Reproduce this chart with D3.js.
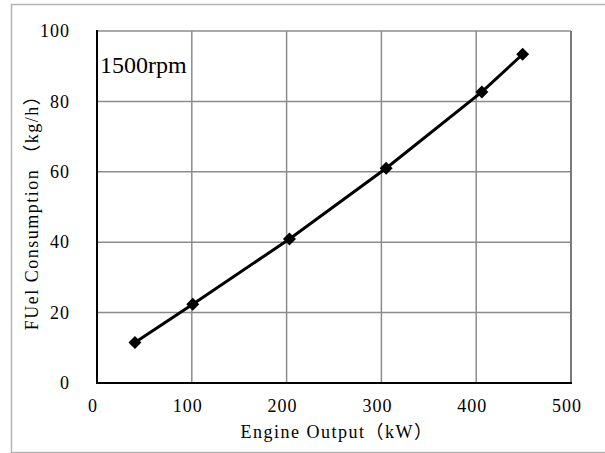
<!DOCTYPE html>
<html>
<head>
<meta charset="utf-8">
<script src="https://cdn.jsdelivr.net/npm/d3@7"></script>
<style>
  body { margin: 0; background: #fff; }
  svg { display: block; }
  .tick-label { font-family: "Liberation Serif", "Noto Sans CJK SC", serif; font-size: 18px; letter-spacing: 1px; fill: #000; }
  .axis-title { font-family: "Liberation Serif", "Noto Sans CJK SC", serif; font-size: 18px; letter-spacing: 1.5px; fill: #000; }
</style>
</head>
<body>
<div id="chart"></div>
<script>
// values
const outputKW = [40, 101, 203, 305, 406, 449];
const fuelKgH = [11.5, 22.4, 40.9, 61, 82.7, 93.4];
const xTicks = [0, 100, 200, 300, 400, 500];
const yTicks = [0, 20, 40, 60, 80, 100];

const width = 605, height = 453;
const margin = { top: 31, right: 34, bottom: 70, left: 97 };
const plotW = width - margin.left - margin.right;
const plotH = height - margin.top - margin.bottom;

const svg = d3.select("#chart")
  .append("svg")
  .attr("width", width)
  .attr("height", height);

// outer frame (right side runs off the picture)
svg.append("path")
  .attr("d", `M${width + 5},4.5 H11.5 V452.5 H${width + 5}`)
  .attr("fill", "none")
  .attr("stroke", "#b4b4b4")
  .attr("stroke-width", 1.5);

const x = d3.scaleLinear().domain([0, 500]).range([0, plotW]);
const y = d3.scaleLinear().domain([0, 100]).range([plotH, 0]);

const g = svg.append("g")
  .attr("transform", `translate(${margin.left},${margin.top})`);

// grid
g.selectAll(".vgrid")
  .data(xTicks.slice(1))
  .join("line")
  .attr("x1", d => x(d)).attr("x2", d => x(d))
  .attr("y1", 0).attr("y2", plotH)
  .attr("stroke", "#8c8c8c")
  .attr("stroke-width", 1.5);

g.selectAll(".hgrid")
  .data(yTicks.slice(1))
  .join("line")
  .attr("x1", 0).attr("x2", plotW)
  .attr("y1", d => y(d)).attr("y2", d => y(d))
  .attr("stroke", "#8c8c8c")
  .attr("stroke-width", 1.5);

// right edge a bit heavier, like the original
g.append("line")
  .attr("x1", plotW).attr("x2", plotW)
  .attr("y1", 0).attr("y2", plotH)
  .attr("stroke", "#7a7a7a")
  .attr("stroke-width", 2);

// axes lines
g.append("line")
  .attr("x1", 0).attr("x2", 0)
  .attr("y1", -1).attr("y2", plotH + 1)
  .attr("stroke", "#000")
  .attr("stroke-width", 2);
g.append("line")
  .attr("x1", -1).attr("x2", plotW + 1)
  .attr("y1", plotH).attr("y2", plotH)
  .attr("stroke", "#000")
  .attr("stroke-width", 2);

// tick labels
g.selectAll(".ylab")
  .data(yTicks)
  .join("text")
  .attr("class", "tick-label")
  .attr("x", -27)
  .attr("y", d => y(d))
  .attr("dy", "0.34em")
  .attr("text-anchor", "end")
  .text(d => d);

g.selectAll(".xlab")
  .data(xTicks)
  .join("text")
  .attr("class", "tick-label")
  .attr("x", d => x(d) - 4)
  .attr("y", plotH + 29)
  .attr("text-anchor", "middle")
  .text(d => d);

// axis titles
svg.append("text")
  .attr("class", "axis-title")
  .attr("x", 337)
  .attr("y", 438)
  .attr("text-anchor", "middle")
  .text("Engine Output（kW）");

svg.append("text")
  .attr("class", "axis-title")
  .attr("transform", "translate(38,208) rotate(-90)")
  .attr("text-anchor", "middle")
  .text("FUel Consumption （kg/h）");

// line + markers
const pts = outputKW.map((v, i) => ({ x: v, y: fuelKgH[i] }));

g.append("path")
  .datum(pts)
  .attr("fill", "none")
  .attr("stroke", "#000")
  .attr("stroke-width", 3)
  .attr("d", d3.line().x(d => x(d.x)).y(d => y(d.y)));

g.selectAll(".mark")
  .data(pts)
  .join("path")
  .attr("d", d3.symbol(d3.symbolSquare, 84))
  .attr("transform", d => `translate(${x(d.x)},${y(d.y)}) rotate(45)`)
  .attr("fill", "#000");

// annotation
g.append("text")
  .attr("x", 3)
  .attr("y", 42)
  .style("font-family", "'Liberation Serif', 'Times New Roman', serif")
  .style("font-size", "24px")
  .text("1500rpm");
</script>
</body>
</html>
